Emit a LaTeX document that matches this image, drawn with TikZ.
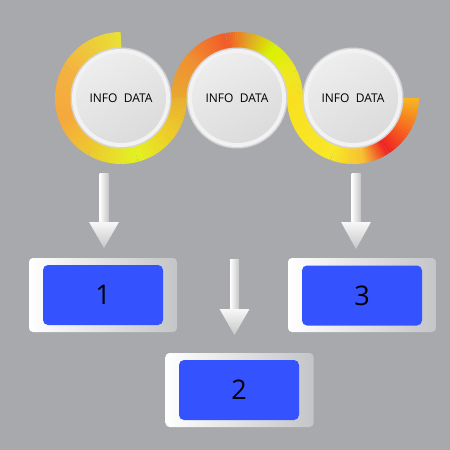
\documentclass[tikz,border=0pt]{standalone}
\usepackage{fontspec}
\setmainfont{Open Sans}
\usetikzlibrary{calc}
\definecolor{bgc}{HTML}{A8A9AD}
\definecolor{blu}{HTML}{3453FE}
\definecolor{rimc}{HTML}{D4D4D6}
\definecolor{boxr}{HTML}{C4C5C7}
% ring 1
\definecolor{ra1}{HTML}{E8E234}
\definecolor{ra2}{HTML}{F3B440}
\definecolor{ra3}{HTML}{F6A83C}
\definecolor{ra4}{HTML}{EEC830}
\definecolor{ra5}{HTML}{E2F222}
\definecolor{ra6}{HTML}{EED028}
\definecolor{ra7}{HTML}{E8B030}
% ring 2
\definecolor{rb1}{HTML}{E8A830}
\definecolor{rb2}{HTML}{F09030}
\definecolor{rb3}{HTML}{F25A28}
\definecolor{rb4}{HTML}{E2B020}
\definecolor{rb5}{HTML}{D8F200}
\definecolor{rb6}{HTML}{F0E820}
\definecolor{rb7}{HTML}{F8E020}
% ring 3
\definecolor{rc1}{HTML}{F8E020}
\definecolor{rc2}{HTML}{F8E828}
\definecolor{rc3}{HTML}{F8C030}
\definecolor{rc4}{HTML}{F02222}
\definecolor{rc5}{HTML}{F87820}
\definecolor{rc6}{HTML}{F8B820}
\newcommand\gradarc[5]{%
  \foreach \i in {0,...,11}{%
    \pgfmathsetmacro\sa{#2+(#3-#2)*\i/12}%
    \pgfmathsetmacro\ea{#2+(#3-#2)*min(\i+1.15,12)/12}%
    \pgfmathtruncatemacro\p{100-(\i+0.5)*100/12}%
    \draw[ringseg, color=#4!\p!#5] ($(#1)+(\sa:58)$) arc[start angle=\sa, end angle=\ea, radius=58];
  }}
\tikzset{
  ringseg/.style={line width=16pt, line cap=butt},
  infotext/.style={font=\fontsize{12}{14}\selectfont, text=black},
  outerbox/.style={rounded corners=4pt, left color=white, right color=boxr, minimum width=148pt, minimum height=74pt, inner sep=0pt},
  bluebox/.style={rounded corners=5pt, fill=blu, minimum width=120pt, minimum height=60pt, inner sep=0pt, font=\fontsize{27}{30}\selectfont, text=black},
  shaftst/.style={left color=white, right color=black!22},
  headst/.style={top color=white!97!black, bottom color=black!22},
}
\begin{document}
\begin{tikzpicture}[x=1pt,y=1pt]
\fill[bgc] (0,0) rectangle (450,-450);
\useasboundingbox (0,0) rectangle (450,-450);
\coordinate (c1) at (121,-98);
\coordinate (c2) at (237,-98);
\coordinate (c3) at (353,-98);
% ribbon
\gradarc{c1}{90}{150}{ra1}{ra2}
\gradarc{c1}{150}{200}{ra2}{ra3}
\gradarc{c1}{200}{240}{ra3}{ra4}
\gradarc{c1}{240}{285}{ra4}{ra5}
\gradarc{c1}{285}{320}{ra5}{ra6}
\gradarc{c1}{320}{360}{ra6}{ra7}
\gradarc{c2}{180}{140}{rb1}{rb2}
\gradarc{c2}{140}{100}{rb2}{rb3}
\gradarc{c2}{100}{75}{rb3}{rb4}
\gradarc{c2}{75}{55}{rb4}{rb5}
\gradarc{c2}{55}{25}{rb5}{rb6}
\gradarc{c2}{25}{0}{rb6}{rb7}
\gradarc{c3}{180}{250}{rc1}{rc2}
\gradarc{c3}{250}{280}{rc2}{rc3}
\gradarc{c3}{280}{303}{rc3}{rc4}
\gradarc{c3}{303}{335}{rc4}{rc5}
\gradarc{c3}{335}{360}{rc5}{rc6}
% discs
\foreach \c in {c1,c2,c3}{
  \fill[rimc] (\c) circle (50.5);
  \fill[white!95!black] (\c) circle (49);
  \shade[top color=white!93!black, bottom color=white!86!black, shading angle=30] (\c) circle (45);
}
\node[infotext] (t1) at (c1) {INFO\ \ DATA};
\node[infotext] (t2) at (c2) {INFO\ \ DATA};
\node[infotext] (t3) at (c3) {INFO\ \ DATA};
% arrows
\shade[shaftst] (99.5,-173) rectangle (108.5,-223);
\shade[headst] (89,-222) -- (119,-222) -- (104,-248) -- cycle;
\shade[shaftst] (351.5,-173) rectangle (360.5,-223);
\shade[headst] (341,-222) -- (371,-222) -- (356,-249) -- cycle;
\shade[shaftst] (230,-259) rectangle (239,-310);
\shade[headst] (219.5,-309) -- (249.5,-309) -- (234.5,-335) -- cycle;
% boxes
\node[outerbox] (o1) at (103,-295) {};
\node[bluebox] (b1) at (103,-295) {1};
\node[outerbox] (o3) at (362,-295) {};
\node[bluebox] (b3) at (362,-295.5) {3};
\node[outerbox] (o2) at (239.5,-390) {};
\node[bluebox] (b2) at (239,-390) {2};
\end{tikzpicture}
\end{document}
